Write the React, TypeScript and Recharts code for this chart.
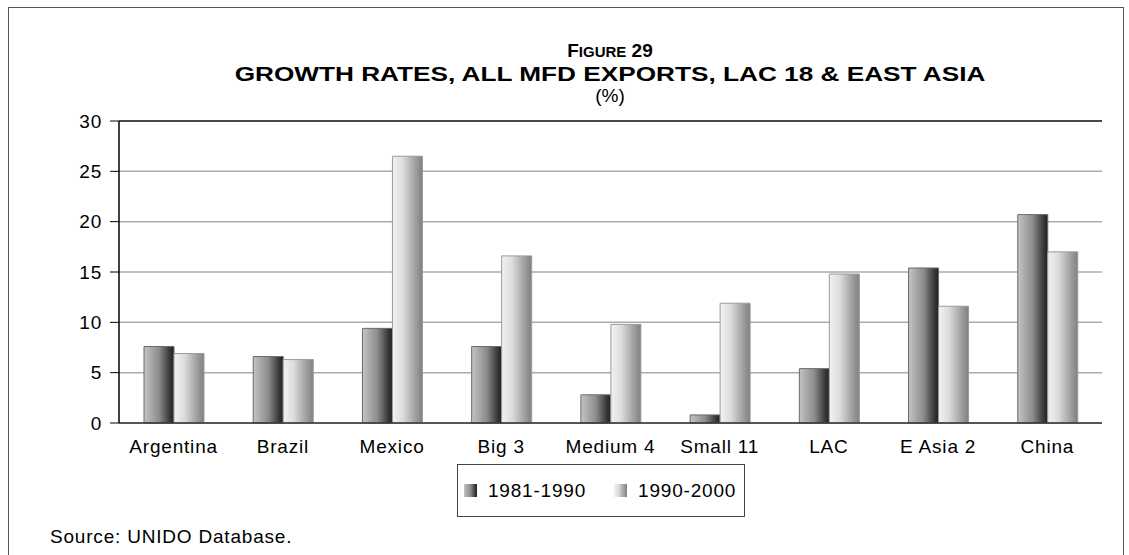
import { Bar, BarChart, CartesianGrid, ReferenceLine, XAxis, YAxis } from "recharts";

const regions = ["Argentina", "Brazil", "Mexico", "Big 3", "Medium 4", "Small 11", "LAC", "E Asia 2", "China"];
const growth8190 = [7.6, 6.6, 9.4, 7.6, 2.8, 0.8, 5.4, 15.4, 20.7];
const growth9000 = [6.9, 6.3, 26.5, 16.6, 9.8, 11.9, 14.8, 11.6, 17.0];
const yTicks = [0, 5, 10, 15, 20, 25, 30];
const periods = ["1981-1990", "1990-2000"];

const rows = regions.map((name, i) => ({
  name,
  p1: growth8190[i],
  p2: growth9000[i],
}));

const FONT = "'Liberation Sans', Arial, sans-serif";

const darkGrad = "linear-gradient(to right, #c4c4c4 0%, #8c8c8c 50%, #3a3a3a 85%, #202020 100%)";
const lightGrad = "linear-gradient(to right, #f2f2f2 0%, #dcdcdc 35%, #a8a8a8 70%, #808080 100%)";

function LegendBox() {
  const item = (bg: string, label: string, gap: number) => (
    <div style={{ display: "flex", alignItems: "center", marginRight: gap, whiteSpace: "nowrap" }}>
      <div style={{ width: 13, height: 13, background: bg, marginRight: 11, flexShrink: 0 }} />
      <span style={{ fontSize: 19, letterSpacing: 0.8, color: "#000" }}>{label}</span>
    </div>
  );
  return (
    <div
      style={{
        position: "absolute",
        left: 457,
        top: 464,
        width: 288,
        height: 53,
        border: "1.5px solid #444",
        boxSizing: "border-box",
        display: "flex",
        alignItems: "center",
        paddingLeft: 6,
        fontFamily: FONT,
        background: "#fff",
      }}
    >
      {item(darkGrad, periods[0], 28)}
      {item(lightGrad, periods[1], 0)}
    </div>
  );
}

export default function App() {
  return (
    <div
      style={{
        position: "absolute",
        left: 0,
        top: 0,
        width: 1129,
        height: 555,
        overflow: "hidden",
        background: "#fff",
        fontFamily: FONT,
      }}
    >
      <svg width={0} height={0} style={{ position: "absolute" }}>
        <defs>
          <linearGradient id="gDark" x1="0" y1="0" x2="1" y2="0">
            <stop offset="0%" stopColor="#c4c4c4" />
            <stop offset="50%" stopColor="#8c8c8c" />
            <stop offset="85%" stopColor="#3a3a3a" />
            <stop offset="100%" stopColor="#202020" />
          </linearGradient>
          <linearGradient id="gLight" x1="0" y1="0" x2="1" y2="0">
            <stop offset="0%" stopColor="#f2f2f2" />
            <stop offset="35%" stopColor="#dcdcdc" />
            <stop offset="70%" stopColor="#a8a8a8" />
            <stop offset="100%" stopColor="#808080" />
          </linearGradient>
        </defs>
      </svg>

      {/* outer frame, open at the bottom */}
      <div
        style={{
          position: "absolute",
          left: 8,
          top: 7,
          width: 1116,
          height: 600,
          border: "1.5px solid #555",
          boxSizing: "border-box",
        }}
      />

      <div style={{ position: "absolute", left: 0, top: 40, width: 1220, textAlign: "center", fontWeight: "bold", fontSize: 19, lineHeight: "22px" }}>
        F<span style={{ fontSize: 15 }}>IGURE</span> 29
      </div>
      <div style={{ position: "absolute", left: 0, top: 62, width: 1220, textAlign: "center", lineHeight: "23px" }}>
        <span style={{ display: "inline-block", fontWeight: "bold", fontSize: 21, transform: "scaleX(1.247)", whiteSpace: "nowrap" }}>
          GROWTH RATES, ALL MFD EXPORTS, LAC 18 &amp; EAST ASIA
        </span>
      </div>
      <div style={{ position: "absolute", left: 0, top: 85, width: 1220, textAlign: "center", fontSize: 19, lineHeight: "22px" }}>
        (%)
      </div>

      <div style={{ position: "absolute", left: 0, top: 0 }}>
        <BarChart
          width={1129}
          height={555}
          data={rows}
          margin={{ top: 121, right: 27, left: 59, bottom: 102 }}
          barGap={0}
          barSize={30}
        >
          <CartesianGrid vertical={false} stroke="#ababab" strokeWidth={1.5} />
          <XAxis
            dataKey="name"
            height={30}
            tickLine={false}
            axisLine={{ stroke: "#333", strokeWidth: 1.5 }}
            tick={{ fontSize: 19, fill: "#000", letterSpacing: 0.8, fontFamily: FONT }}
            tickMargin={11}
            interval={0}
          />
          <YAxis
            width={60}
            domain={[0, 30]}
            ticks={yTicks}
            interval={0}
            tickSize={9}
            tickLine={{ stroke: "#000" }}
            axisLine={{ stroke: "#000", strokeWidth: 1.5 }}
            tick={{ fontSize: 19, fill: "#000", letterSpacing: 0.8, fontFamily: FONT }}
            tickMargin={8}
          />
          <YAxis
            yAxisId="r"
            orientation="right"
            width={0}
            domain={[0, 30]}
            tick={false}
            tickLine={false}
            axisLine={{ stroke: "#333", strokeWidth: 1.5 }}
          />
          <ReferenceLine y={30} stroke="#222" strokeWidth={1.5} />
          <Bar dataKey="p1" name={periods[0]} fill="url(#gDark)" stroke="#6a6a6a" strokeWidth={1} isAnimationActive={false} />
          <Bar dataKey="p2" name={periods[1]} fill="url(#gLight)" stroke="#9a9a9a" strokeWidth={1} isAnimationActive={false} />
        </BarChart>
      </div>

      <LegendBox />

      <div style={{ position: "absolute", left: 50, top: 526, fontSize: 19, letterSpacing: 0.8 }}>
        Source: UNIDO Database.
      </div>
    </div>
  );
}
